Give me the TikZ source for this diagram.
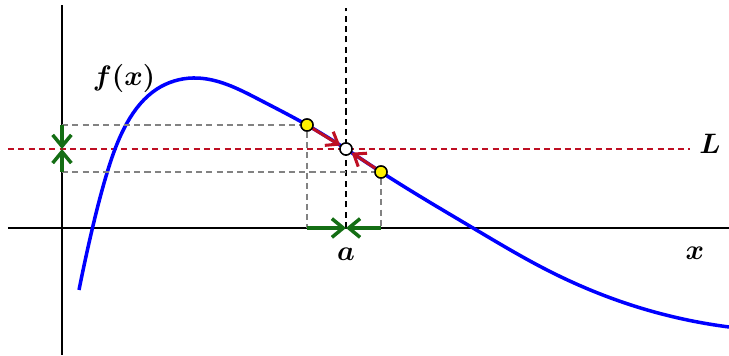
\documentclass[tikz,border=0pt]{standalone}
\usepackage{amsmath}
\usepackage{bm}
\usepackage{xcolor}
\usetikzlibrary{arrows.meta,hobby}
\definecolor{limRed}{RGB}{190,15,35}
\definecolor{limGreen}{RGB}{20,110,20}
\definecolor{guideGray}{RGB}{130,130,130}

\begin{document}
\begin{tikzpicture}[
  x=0.015cm, y=0.015cm,
  font=\large,
  axis/.style={line width=1.2pt, black},
  guide/.style={line width=1pt, dash pattern=on 2.6pt off 1.8pt, guideGray},
  dot/.style={circle, draw=black, line width=0.6pt, fill=yellow, inner sep=0pt, minimum size=1.8mm},
  limdot/.style={circle, draw=black, line width=0.6pt, fill=white, inner sep=0pt, minimum size=1.8mm},
  arr/.style={-{Straight Barb[length=1.6mm,width=2.4mm]}, line width=1.3pt, limRed},
  squeeze/.style={-{Straight Barb[length=1.7mm,width=2.8mm]}, line width=1.5pt, limGreen}
]
\useasboundingbox (-62,-128) rectangle (667,228);

% axes
\coordinate (xl) at (-54,0);
\coordinate (xr) at (667,0);
\coordinate (yb) at (0,-127);
\coordinate (yt) at (0,223);
\draw[axis] (xl) -- (xr);
\draw[axis] (yb) -- (yt);

% limit lines
\coordinate (al) at (284,0);
\coordinate (at) at (284,220);
\draw[line width=1pt, dash pattern=on 2.6pt off 1.8pt, black] (al) -- (at);
\coordinate (Ll) at (-54,79);
\coordinate (Lr) at (628,79);
\draw[line width=1pt, dash pattern=on 2.6pt off 1.8pt, limRed] (Ll) -- (Lr);

% the function
\coordinate (fs) at (17,-62);
\coordinate (fe) at (667,-99);
\draw[line width=1.5pt, blue] (fs) to[curve through={(30,-2) (45,55) (65,105)
  (95,139) (131,150) (198,128) (245,103) (284,79) (319,56) (411,0)
  (485,-42) (560,-74)}] (fe);

% points near a
\node[dot] (p1) at (245,103) {};
\node[dot] (p2) at (319,56) {};
\node[limdot] (pa) at (284,79) {};

% projections
\coordinate (y1) at (0,103);
\coordinate (y2) at (0,56);
\coordinate (x1) at (245,0);
\coordinate (x2) at (319,0);
\coordinate (yL) at (0,79);
\draw[guide] (y1) -- (p1) -- (x1);
\draw[guide] (y2) -- (p2) -- (x2);

% squeezing arrows
\draw[squeeze] (y1) -- (yL);
\draw[squeeze] (y2) -- (yL);
\draw[squeeze] (x1) -- (al);
\draw[squeeze] (x2) -- (al);
\draw[arr] (p1) -- (pa);
\draw[arr] (p2) -- (pa);
\node[limdot] at (pa) {};
\node[dot] at (p1) {};
\node[dot] at (p2) {};

% labels
\node (fx) at (62,150) {$\bm{f(x)}$};
\node (L) at (648,84) {$\bm{L}$};
\node (xlab) at (633,-25) {$\bm{x}$};
\node (alab) at (284,-26) {$\bm{a}$};

\end{tikzpicture}
\end{document}
